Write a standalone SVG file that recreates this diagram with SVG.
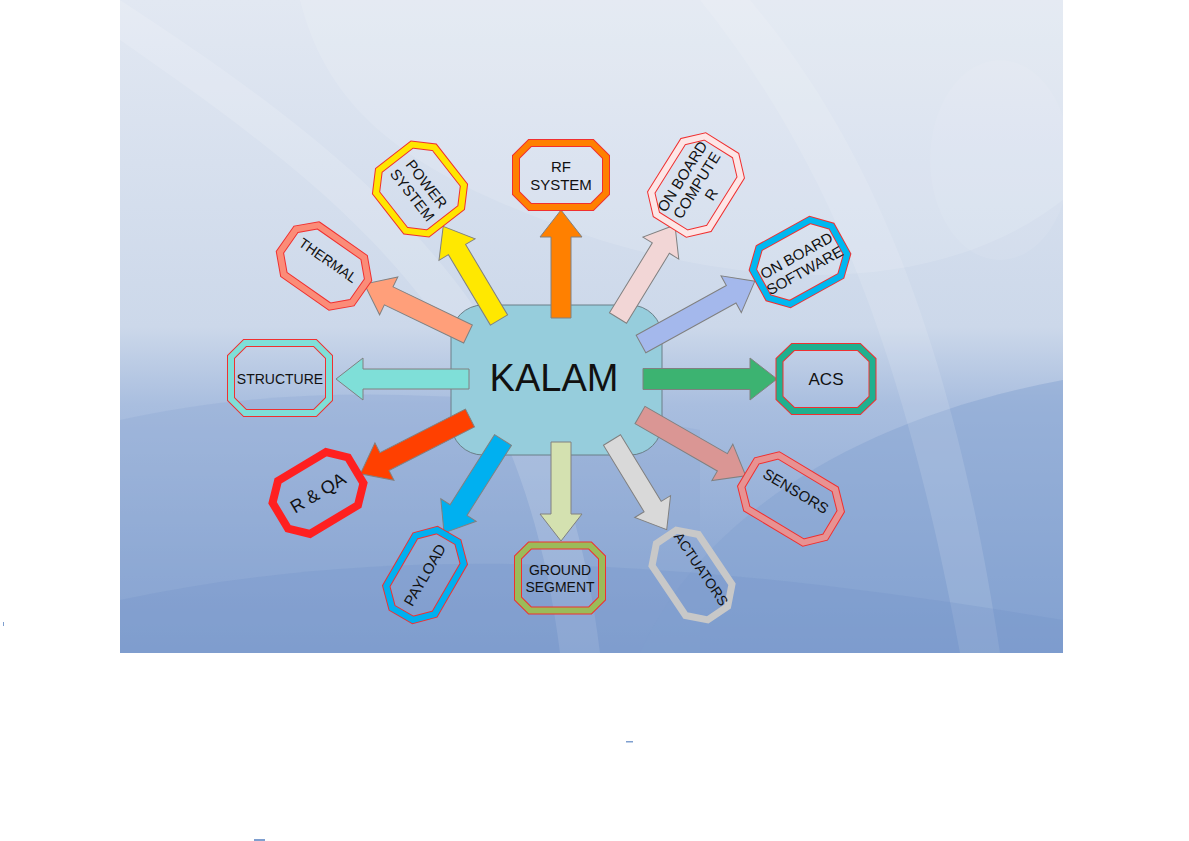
<svg xmlns="http://www.w3.org/2000/svg" width="1189" height="841" viewBox="0 0 1189 841">
<defs>
<linearGradient id="bg" x1="0" y1="0" x2="0" y2="1">
<stop offset="0" stop-color="#e2e8f2"/>
<stop offset="0.5" stop-color="#ccd8ea"/>
<stop offset="0.62" stop-color="#a9bedf"/>
<stop offset="1" stop-color="#7f9ecf"/>
</linearGradient>
<clipPath id="clip"><rect x="120" y="0" width="943" height="653"/></clipPath>
</defs>
<style>
.arr{stroke:#808080;stroke-width:1}
.lbl{font-family:"Liberation Sans",Arial,sans-serif;fill:#111;text-anchor:middle}
.ol{fill:none;stroke:#f03030;stroke-linejoin:miter}
.bd{fill:none;stroke-linejoin:miter}
</style>
<rect width="1189" height="841" fill="#ffffff"/>
<g id="background" clip-path="url(#clip)">
<rect x="120" y="0" width="943" height="653" fill="url(#bg)"/>
<path d="M120,420 C300,380 500,390 700,430 L700,653 L120,653 Z" fill="#8fa9d4" opacity="0.35"/>
<path d="M640,653 C700,520 850,420 1063,380 L1063,653 Z" fill="#86a4d2" opacity="0.5"/>
<path d="M120,40 C350,200 520,330 560,653 L600,653 C560,320 380,170 120,0 Z" fill="#ffffff" opacity="0.14"/>
<path d="M700,0 C820,150 900,330 960,653 L1000,653 C950,320 860,130 750,0 Z" fill="#ffffff" opacity="0.12"/>
<path d="M300,0 C330,120 420,180 600,240 C800,300 960,280 1063,200 L1063,0 Z" fill="#ffffff" opacity="0.12"/>
<path d="M120,600 C400,540 700,560 1063,620 L1063,653 L120,653 Z" fill="#6f90c6" opacity="0.25"/>
<ellipse cx="1000" cy="160" rx="70" ry="100" fill="#ffffff" opacity="0.07"/>
</g>
<g id="specks" fill="#7f9fcf">
<rect x="3" y="622" width="1" height="4"/>
<rect x="626" y="741" width="7" height="1.5"/>
<rect x="254" y="839" width="11" height="2"/>
</g>
<g id="kalam">
<rect x="451" y="305" width="211" height="150" rx="32" ry="32" fill="#96cddc" stroke="#6a7f88" stroke-width="1"/>
<text class="lbl" x="554" y="391" font-size="38">KALAM</text>
</g>
<g id="connectors">
<path class="arr" fill="#ff8000" transform="translate(561,318) rotate(-90)" d="M0,-10 L81,-10 L81,-21 L108,0 L81,21 L81,10 L0,10 Z"/>
<path class="arr" fill="#ffe800" transform="translate(499,320) rotate(-120.8)" d="M0,-10 L82,-10 L82,-21 L109,0 L82,21 L82,10 L0,10 Z"/>
<path class="arr" fill="#ff9f7a" transform="translate(468,334) rotate(-154.3)" d="M0,-10 L88,-10 L88,-21 L115,0 L88,21 L88,10 L0,10 Z"/>
<path class="arr" fill="#7fdfd8" transform="translate(469,379) rotate(180)" d="M0,-10 L106,-10 L106,-21 L133,0 L106,21 L106,10 L0,10 Z"/>
<path class="arr" fill="#ff4000" transform="translate(470,418) rotate(153)" d="M0,-10 L96,-10 L96,-21 L123,0 L96,21 L96,10 L0,10 Z"/>
<path class="arr" fill="#00b0f0" transform="translate(503,440) rotate(122.4)" d="M0,-10 L83,-10 L83,-21 L110,0 L83,21 L83,10 L0,10 Z"/>
<path class="arr" fill="#d4e1b0" transform="translate(561,442) rotate(90)" d="M0,-10 L72,-10 L72,-21 L99,0 L72,21 L72,10 L0,10 Z"/>
<path class="arr" fill="#d9d9d9" transform="translate(612,440) rotate(58.6)" d="M0,-10 L78,-10 L78,-21 L105,0 L78,21 L78,10 L0,10 Z"/>
<path class="arr" fill="#da9694" transform="translate(640,415) rotate(29.9)" d="M0,-10 L95,-10 L95,-21 L122,0 L95,21 L95,10 L0,10 Z"/>
<path class="arr" fill="#3cb371" transform="translate(643,379)" d="M0,-10.5 L107,-10.5 L107,-21 L134,0 L107,21 L107,10.5 L0,10.5 Z"/>
<path class="arr" fill="#a4b8ec" transform="translate(641,344) rotate(-28.9)" d="M0,-10 L103,-10 L103,-21 L130,0 L103,21 L103,10 L0,10 Z"/>
<path class="arr" fill="#f2d6d6" transform="translate(618,318) rotate(-58.5)" d="M0,-10 L82,-10 L82,-21 L109,0 L82,21 L82,10 L0,10 Z"/>
</g>
<g id="rf-system" transform="translate(561,175)">
<path class="ol" stroke-width="8" d="M-31,-32 L31,-32 L45,-18 L45,18 L31,32 L-31,32 L-45,18 L-45,-18 Z"/>
<path class="bd" stroke="#ff8000" stroke-width="6" d="M-31,-32 L31,-32 L45,-18 L45,18 L31,32 L-31,32 L-45,18 L-45,-18 Z"/>
<text class="lbl" font-size="15" y="-3">RF</text>
<text class="lbl" font-size="15" y="15">SYSTEM</text>
</g>
<g id="power-system" transform="translate(420,189) rotate(52)">
<path class="ol" stroke-width="8" d="M-24,-37 L24,-37 L40,-21 L40,21 L24,37 L-24,37 L-40,21 L-40,-21 Z"/>
<path class="bd" stroke="#ffe600" stroke-width="6" d="M-24,-37 L24,-37 L40,-21 L40,21 L24,37 L-24,37 L-40,21 L-40,-21 Z"/>
<text class="lbl" font-size="15" y="-3">POWER</text>
<text class="lbl" font-size="15" y="15">SYSTEM</text>
</g>
<g id="thermal" transform="translate(324,266) rotate(35)">
<path class="ol" stroke-width="8" d="M-28,-30 L28,-30 L44,-14 L44,14 L28,30 L-28,30 L-44,14 L-44,-14 Z"/>
<path class="bd" stroke="#fb8c78" stroke-width="6" d="M-28,-30 L28,-30 L44,-14 L44,14 L28,30 L-28,30 L-44,14 L-44,-14 Z"/>
<text class="lbl" font-size="14" y="-2">THERMAL</text>
</g>
<g id="on-board-computer" transform="translate(696,185) rotate(-58)">
<path class="ol" stroke-width="8" d="M-30,-34 L30,-34 L46,-18 L46,18 L30,34 L-30,34 L-46,18 L-46,-18 Z"/>
<path class="bd" stroke="#fde6e6" stroke-width="6" d="M-30,-34 L30,-34 L46,-18 L46,18 L30,34 L-30,34 L-46,18 L-46,-18 Z"/>
<text class="lbl" font-size="15" y="-11">ON BOARD</text>
<text class="lbl" font-size="15" y="6">COMPUTE</text>
<text class="lbl" font-size="15" y="23">R</text>
</g>
<g id="on-board-software" transform="translate(800,262) rotate(-29)">
<path class="ol" stroke-width="8" d="M-29,-32 L29,-32 L45,-16 L45,16 L29,32 L-29,32 L-45,16 L-45,-16 Z"/>
<path class="bd" stroke="#00b8f0" stroke-width="6" d="M-29,-32 L29,-32 L45,-16 L45,16 L29,32 L-29,32 L-45,16 L-45,-16 Z"/>
<text class="lbl" font-size="15" y="-2">ON BOARD</text>
<text class="lbl" font-size="15" y="15">SOFTWARE</text>
</g>
<g id="structure" transform="translate(280,378)">
<path class="ol" stroke-width="8" d="M-35,-35 L35,-35 L49,-21 L49,21 L35,35 L-35,35 L-49,21 L-49,-21 Z"/>
<path class="bd" stroke="#7fdfd8" stroke-width="6" d="M-35,-35 L35,-35 L49,-21 L49,21 L35,35 L-35,35 L-49,21 L-49,-21 Z"/>
<text class="lbl" font-size="14" y="6">STRUCTURE</text>
</g>
<g id="acs" transform="translate(826,379)">
<path class="ol" stroke-width="8" d="M-33,-32 L33,-32 L46.5,-19 L46.5,19 L33,32 L-33,32 L-46.5,19 L-46.5,-19 Z"/>
<path class="bd" stroke="#1fb08f" stroke-width="6" d="M-33,-32 L33,-32 L46.5,-19 L46.5,19 L33,32 L-33,32 L-46.5,19 L-46.5,-19 Z"/>
<text class="lbl" font-size="17" y="6">ACS</text>
</g>
<g id="r-qa" transform="translate(318,493) rotate(-31)">
<path class="bd" stroke="#ff2020" stroke-width="8" d="M-28,-31 L28,-31 L44,-15 L44,15 L28,31 L-28,31 L-44,15 L-44,-15 Z"/>
<text class="lbl" font-size="18" y="6">R &amp; QA</text>
</g>
<g id="payload" transform="translate(425,575) rotate(-60)">
<path class="ol" stroke-width="8" d="M-29,-28 L29,-28 L45,-12 L45,12 L29,28 L-29,28 L-45,12 L-45,-12 Z"/>
<path class="bd" stroke="#00b0f0" stroke-width="6" d="M-29,-28 L29,-28 L45,-12 L45,12 L29,28 L-29,28 L-45,12 L-45,-12 Z"/>
<text class="lbl" font-size="15" y="5">PAYLOAD</text>
</g>
<g id="ground-segment" transform="translate(560,578)">
<path class="ol" stroke-width="8" d="M-30,-32.5 L30,-32.5 L42,-20.5 L42,20.5 L30,32.5 L-30,32.5 L-42,20.5 L-42,-20.5 Z"/>
<path class="bd" stroke="#9bbb59" stroke-width="6" d="M-30,-32.5 L30,-32.5 L42,-20.5 L42,20.5 L30,32.5 L-30,32.5 L-42,20.5 L-42,-20.5 Z"/>
<text class="lbl" font-size="14" y="-3">GROUND</text>
<text class="lbl" font-size="14" y="14">SEGMENT</text>
</g>
<g id="actuators" transform="translate(692,575) rotate(56)">
<path class="bd" stroke="#c8c8c8" stroke-width="7" d="M-30,-28 L30,-28 L46,-12 L46,12 L30,28 L-30,28 L-46,12 L-46,-12 Z"/>
<text class="lbl" font-size="14" y="-6">ACTUATORS</text>
</g>
<g id="sensors" transform="translate(791,499) rotate(31)">
<path class="ol" stroke-width="8" d="M-33,-31 L33,-31 L49,-15 L49,15 L33,31 L-33,31 L-49,15 L-49,-15 Z"/>
<path class="bd" stroke="#e89292" stroke-width="6" d="M-33,-31 L33,-31 L49,-15 L49,15 L33,31 L-33,31 L-49,15 L-49,-15 Z"/>
<text class="lbl" font-size="15" y="-4">SENSORS</text>
</g>
</svg>
